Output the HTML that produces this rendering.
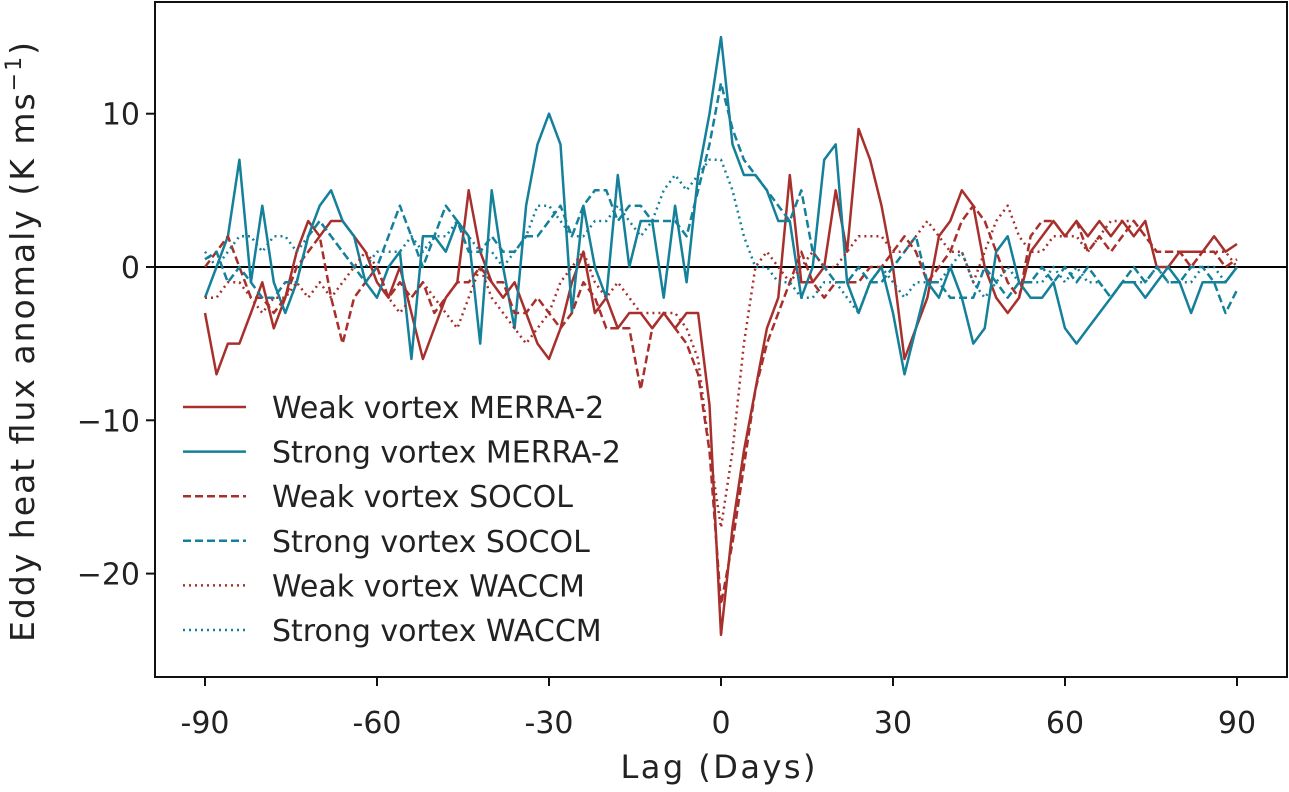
<!DOCTYPE html>
<html><head><meta charset="utf-8"><style>
body{margin:0;background:#fff;}
svg text{font-family:"DejaVu Sans","Liberation Sans",sans-serif;fill:#222;}
</style></head><body>
<svg id="chart" width="1289" height="787">
<rect x="155" y="2" width="1132" height="675" fill="none" stroke="#111" stroke-width="2"/>
<g id="axes"></g>
<g id="series"></g>
<g id="legend"></g>
<text x="718" y="778" font-size="32" text-anchor="middle" textLength="195">Lag (Days)</text>
<text transform="translate(34,342) rotate(-90)" font-size="33" text-anchor="middle" textLength="600">Eddy heat flux anomaly (K ms<tspan dy="-13" font-size="22">−1</tspan><tspan dy="13">)</tspan></text>
</svg>
<script>
const lags = []; for (let l = -90; l <= 90; l += 2) lags.push(l);
const weakMerra = [-3,-7,-5,-5,-3,-1,-4,-2,1,3,2,3,3,2,1,-1,-2,0,-3,-6,-4,-2,-1,5,1,-1,-2,-1,-3,-5,-6,-4,-1,1,-3,-2,-4,-3,-3,-4,-3,-4,-3,-3,-9,-24,-17,-12,-8,-4,-2,6,-1,-1,0,5,1,9,7,4,0,-6,-4,-2,2,3,5,4,0,-2,-3,-2,1,2,3,2,3,2,3,2,3,2,3,0,0,1,1,1,2,1,1.5];
const strongMerra = [-2,0,2,7,-1,4,-1,-3,-1,2,4,5,3,2,-1,-2,0,1,-6,2,2,1,3,2,-5,5,0,-4,4,8,10,8,-3,4,0,-2,6,0,3,3,-2,4,-1,6,10,15,8,6,6,5,3,3,-2,0,7,8,-1,-3,-1,0,-3,-7,-4,-1,-2,0,-2,-5,-4,1,2,-1,-2,-2,-1,-4,-5,-4,-3,-2,-1,-1,-2,-1,0,-1,-3,-1,-1,-1,0];
const weakSocol = [0,1,2,0,-2,-2,-3,-2,0,1,2,-2,-5,-2,-1,0,-2,-1,-2,-1,-3,-2,-1,-1,0,-1,-1,-3,-3,-2,-3,-4,-3,-1,-2,-4,-4,-4,-8,-4,-3,-4,-5,-7,-12,-22,-18,-13,-8,-5,-3,-1,1,-1,-2,-1,-1,-1,0,0,1,2,1,-1,0,1,3,4,3,1,-1,-2,2,3,3,2,3,1,2,1,2,3,2,1,1,1,0,1,1,0,0.5];
const strongSocol = [0.5,1,-1,0,-1,-2,-2,-1,-1,2,3,2,1,0,-1,0,2,4,2,0,2,4,3,1,1,2,1,1,2,2,3,4,2,4,5,5,3,4,4,3,3,3,2,5,8,12,9,7,6,5,4,3,5,1,0,-1,-1,0,-1,-1,0,1,2,-1,-1,-2,-2,-2,0,-1,-2,-1,-1,0,-1,0,-1,0,-1,-2,-1,0,-1,0,-1,-1,0,0,-1,-3,-1.5];
const weakWaccm = [-2,-2,-1,-1,-2,-3,-2,-2,-1,-2,-1,-2,-1,0,1,0,-2,-3,-2,-1,-2,-3,-4,-2,0,-2,-3,-4,-5,-4,-3,-1,0,1,-1,-2,-1,-2,-3,-3,-3,-3,-4,-6,-12,-17,-12,-5,0,1,0,-1,0,1,0,0,1,2,2,2,1,1,2,3,2,1,1,-1,1,3,4,2,1,1,2,2,2,1,2,3,3,3,2,1,1,1,0,1,1,1,0];
const strongWaccm = [1,0,1,2,2,1,2,2,1,2,3,2,1,0,0,1,1,1,2,1,2,2,3,2,1,1,0,1,2,4,4,3,2,2,3,3,4,3,2,3,5,6,5,6,7,7,5,2,0,0,-1,-1,-2,-2,-1,-1,-2,-3,-1,0,-1,-2,-1,-1,-1,0,1,-1,-2,-1,0,-1,-1,-1,0,-1,0,-1,-1,-2,-1,-1,-1,0,-1,-1,-1,0,0,-1,0];
const xTicks = [-90,-60,-30,0,30,60,90];
const yTicks = [10,0,-10,-20];
const seriesLabels = ["Weak vortex MERRA-2","Strong vortex MERRA-2","Weak vortex SOCOL","Strong vortex SOCOL","Weak vortex WACCM","Strong vortex WACCM"];
const labelWidths = [0,0,0,0,0,0];

const RED = "#a8302c", BLUE = "#14809a";
const X = v => 205 + (v + 90) * (1032 / 180);
const Y = v => 267 - v * 15.33;
const NS = "http://www.w3.org/2000/svg";
const axes = document.getElementById('axes');
function mk(tag, attrs, parent){const e=document.createElementNS(NS,tag);for(const k in attrs)e.setAttribute(k,attrs[k]);parent.appendChild(e);return e;}

xTicks.forEach(t=>{
  const l=mk('line',{x1:X(t),x2:X(t),y1:677,y2:686,stroke:'#111','stroke-width':2},axes);
  
  
  const tx=mk('text',{x:X(t),y:733,'font-size':30,'text-anchor':'middle'},axes);
  tx.textContent=String(t);
  
  
});
yTicks.forEach(t=>{
  const l=mk('line',{x1:146,x2:155,y1:Y(t),y2:Y(t),stroke:'#111','stroke-width':2},axes);
  
  
  const tx=mk('text',{x:140,y:Y(t)+11,'font-size':30,'text-anchor':'end'},axes);
  tx.textContent=t<0?('−'+Math.abs(t)):String(t);
  
  
});
const zl=mk('line',{x1:155,x2:1287,y1:Y(0),y2:Y(0),stroke:'#000','stroke-width':2},axes);



const styles=[
 {d:weakMerra,c:RED,dash:null,n:'weak-merra2-line'},
 {d:strongMerra,c:BLUE,dash:null,n:'strong-merra2-line'},
 {d:weakSocol,c:RED,dash:'8,4',n:'weak-socol-line'},
 {d:strongSocol,c:BLUE,dash:'8,4',n:'strong-socol-line'},
 {d:weakWaccm,c:RED,dash:'2,4',n:'weak-waccm-line'},
 {d:strongWaccm,c:BLUE,dash:'2,4',n:'strong-waccm-line'}];
const sg=document.getElementById('series');
styles.forEach(s=>{
  const pts=s.d.map((v,i)=>X(lags[i]).toFixed(1)+','+Y(v).toFixed(1)).join(' ');
  const a={points:pts,fill:'none',stroke:s.c,'stroke-width':2.5,'stroke-linejoin':'round'};
  if(s.dash)a['stroke-dasharray']=s.dash;
  const p=mk('polyline',a,sg);
  
  
});
const lg=document.getElementById('legend');
styles.forEach((s,i)=>{
  const y=407+i*44.6;
  const a={x1:183,x2:246,y1:y,y2:y,stroke:s.c,'stroke-width':2.5};
  if(s.dash)a['stroke-dasharray']=s.dash;
  const l=mk('line',a,lg);
  
  
  const t=mk('text',{x:272,y:y+11,'font-size':30},lg);
  t.textContent=seriesLabels[i];
  
  
});
</script>
</body></html>
